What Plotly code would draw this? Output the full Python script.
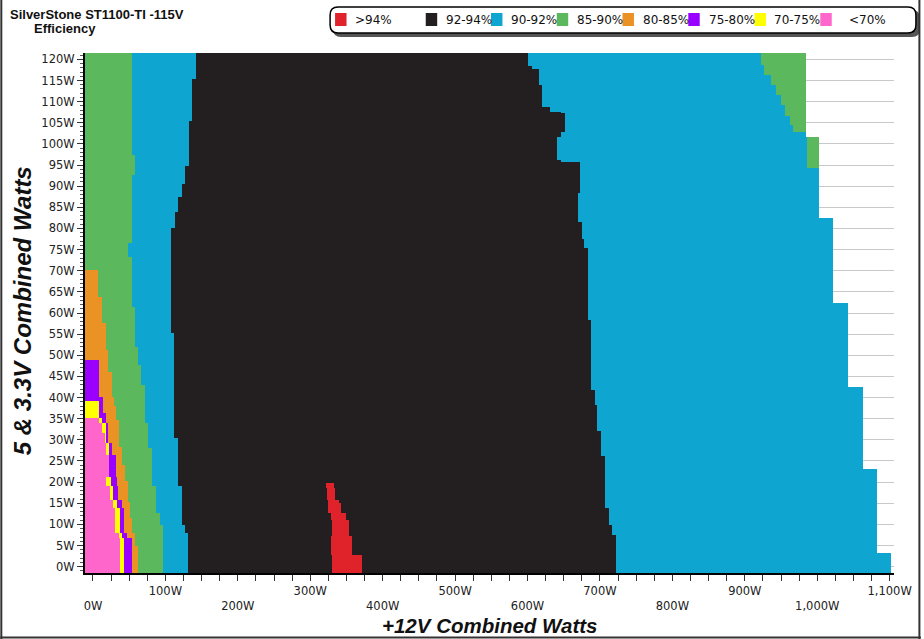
import math
import numpy as np
import plotly.graph_objects as go

# ---------------- data ----------------
categories = [">94%", "92-94%", "90-92%", "85-90%", "80-85%", "75-80%", "70-75%", "<70%"]
cat_colors = ["#e0222a", "#231f20", "#0ea5d1", "#5cb85c", "#ea9223", "#9900ff", "#ffff00", "#ff66cc"]

x_tick_values = [0, 100, 200, 300, 400, 500, 600, 700, 800, 900, 1000, 1100]
x_tick_labels = ["0W", "100W", "200W", "300W", "400W", "500W", "600W", "700W",
                 "800W", "900W", "1,000W", "1,100W"]
y_tick_values = [0, 5, 10, 15, 20, 25, 30, 35, 40, 45, 50, 55, 60, 65, 70, 75, 80, 85,
                 90, 95, 100, 105, 110, 115, 120]
y_tick_labels = ["0W", "5W", "10W", "15W", "20W", "25W", "30W", "35W", "40W", "45W", "50W",
                 "55W", "60W", "65W", "70W", "75W", "80W", "85W", "90W", "95W", "100W",
                 "105W", "110W", "115W", "120W"]

V_MIN, V_MAX = -1.5, 121.5      # 5 & 3.3V load span of the map
W_MIN, W_MAX = -11.0, 1106.0    # +12V load span of the map

# Each zone boundary: (lower 5V/3.3V load of a band, +12V load where the zone ends)
pink_end_v = [-1.5, 6.8, 8.0, 13.9, 15.8, 19.0, 21.3, 26.5, 29.2, 31.6, 33.9, 35.1]
pink_end_w = [37.1, 36.2, 31.0, 28.0, 24.0, 18.3, 22.5, 18.3, 16.0, 11.9, 8.3, -11.0]

yellow_end_v = [-1.5, 6.8, 8.0, 13.9, 15.8, 19.0, 21.3, 29.2, 33.9, 35.1, 39.1]
yellow_end_w = [42.6, 39.5, 36.7, 32.6, 27.9, 24.8, 22.5, 17.9, 11.9, 8.3, -11.0]

purple_end_v = [-1.5, 6.8, 8.0, 13.9, 15.8, 19.0, 21.3, 26.5, 29.2, 33.9, 36.3, 40.2, 48.9]
purple_end_w = [53.2, 46.3, 42.6, 39.5, 34.8, 32.6, 31.6, 25.7, 21.1, 17.9, 14.2, 8.3, -11.0]

orange_end_v = [-1.5, 4.8, 8.0, 11.5, 15.4, 20.2, 24.1, 28.4, 34.7, 37.9, 40.2, 46.1, 51.3,
                57.6, 63.9, 70.2]
orange_end_w = [61.5, 57.8, 54.1, 51.0, 47.7, 44.0, 39.5, 35.5, 32.0, 28.5, 25.7, 21.1, 18.0,
                11.8, 7.0, -11.0]

green_end_v = [-1.5, 9.9, 12.7, 19.0, 28.0, 33.9, 43.0, 47.7, 52.0, 61.5, 73.3, 76.5, 92.6, 97.3]
green_end_w = [96.7, 92.2, 86.7, 81.6, 76.0, 71.5, 67.0, 62.3, 58.0, 54.0, 48.6, 54.0, 58.0, 54.0]

blue_end_v = [-1.5, 8.0, 9.9, 19.0, 30.4, 55.2, 80.0, 83.8, 87.5, 90.5, 94.8, 105.4, 115.3]
blue_end_w = [131.6, 127.0, 122.4, 117.9, 111.8, 107.3, 112.8, 117.9, 122.4, 127.5, 132.5,
              137.1, 142.6]

black_end_v = [-1.5, 7.5, 9.9, 13.9, 26.1, 32.0, 38.3, 41.8, 58.4, 75.3, 77.6, 81.6, 88.3,
               95.8, 96.2, 101.7, 102.8, 107.2, 107.6, 108.7, 113.9, 117.8, 118.4]
black_end_w = [722.6, 717.0, 712.0, 707.5, 702.0, 696.5, 693.0, 687.0, 683.0, 678.0, 675.0,
               670.0, 672.0, 646.0, 641.0, 646.0, 651.5, 646.0, 631.0, 620.0, 616.0, 606.0,
               600.0]

# right-hand 85-90% zone (nan = none in that band)
green2_start_v = [-1.5, 94.3, 101.7, 102.8, 104.4, 106.7, 109.1, 111.5, 113.9, 116.2, 118.6]
green2_start_w = [math.nan, 986.0, math.nan, 966.0, 962.0, 955.0, 950.0, 943.0, 936.0, 927.0,
                  922.0]

data_end_v = [-1.5, 3.2, 23.1, 42.6, 62.4, 82.4, 101.7]
data_end_w = [1102.0, 1083.0, 1063.0, 1043.0, 1022.0, 1003.0, 985.0]

# >94% island
red_v = [-1.5, 2.8, 7.2, 11.1, 12.7, 15.0, 15.8, 18.6, 19.8]
red_start_w = [330.6, 328.3, 330.6, 328.3, 325.1, 325.0, 323.7, 322.3]
red_end_w = [371.8, 358.1, 353.5, 349.0, 342.1, 339.8, 334.3, 332.9]


# ---------------- build heatmap grid from the boundaries ----------------
def step(vs, ws, v):
    i = int(np.searchsorted(vs, v, side="right")) - 1
    return ws[max(i, 0)]


all_v = set([V_MIN, V_MAX])
for vs in (pink_end_v, yellow_end_v, purple_end_v, orange_end_v, green_end_v, blue_end_v,
           black_end_v, green2_start_v, data_end_v, red_v):
    all_v.update(vs)
y_edges = sorted(v for v in all_v if V_MIN <= v <= V_MAX)

row_segments = []
for a, b in zip(y_edges[:-1], y_edges[1:]):
    v = 0.5 * (a + b)
    pe = step(pink_end_v, pink_end_w, v)
    ye = max(step(yellow_end_v, yellow_end_w, v), pe)
    pu = max(step(purple_end_v, purple_end_w, v), ye)
    oe = max(step(orange_end_v, orange_end_w, v), pu)
    ge = max(step(green_end_v, green_end_w, v), oe)
    be = step(blue_end_v, blue_end_w, v)
    ke = step(black_end_v, black_end_w, v)
    de = step(data_end_v, data_end_w, v)
    g2 = step(green2_start_v, green2_start_w, v)
    if math.isnan(g2):
        g2 = de
    segs = [(W_MIN, pe, 7), (pe, ye, 6), (ye, pu, 5), (pu, oe, 4), (oe, ge, 3),
            (ge, be, 2), (be, ke, 1), (ke, g2, 2), (g2, de, 3)]
    if v < red_v[-1]:
        i = int(np.searchsorted(red_v, v, side="right")) - 1
        i = min(max(i, 0), len(red_start_w) - 1)
        segs.append((red_start_w[i], red_end_w[i], 0))
    row_segments.append(segs)

all_w = set([W_MIN, W_MAX])
for segs in row_segments:
    for s, e, _ in segs:
        all_w.add(s)
        all_w.add(e)
x_edges = sorted(w for w in all_w if W_MIN <= w <= W_MAX)

z = []
for segs in row_segments:
    row = []
    for a, b in zip(x_edges[:-1], x_edges[1:]):
        xm = 0.5 * (a + b)
        cat = None
        for s, e, c in segs:
            if s <= xm < e and e > s:
                if c == 0 or cat is None:
                    cat = c
        row.append(cat)
    z.append(row)

n = len(categories)
colorscale = []
for i, c in enumerate(cat_colors):
    colorscale.append([i / n, c])
    colorscale.append([(i + 1) / n, c])

fig = go.Figure()
fig.add_trace(go.Heatmap(
    x=x_edges, y=y_edges, z=z, zmin=-0.5, zmax=n - 0.5,
    colorscale=colorscale, showscale=False, hoverinfo="skip", zsmooth=False,
))

# ---------------- layout ----------------
PL, PR, PT, PB = 85, 897, 53, 573
FW, FH = 924, 639


def px_x(px):
    return (px - PL) / (PR - PL)


def px_y(py):
    return (PB - py) / (PB - PT)


tick_font = dict(family="DejaVu Sans", size=11.5, color="#222222")
x_text = [lab if i % 2 == 1 else "<br>" + lab for i, lab in enumerate(x_tick_labels)]

fig.update_xaxes(
    range=[W_MIN, W_MAX], tickmode="array", tickvals=x_tick_values, ticktext=x_text,
    ticks="outside", ticklen=6, tickcolor="#333333", tickwidth=1,
    minor=dict(dtick=25, tick0=0, ticks="outside", ticklen=6, tickcolor="#333333"),
    showgrid=False, zeroline=False, showline=True, linecolor="#000000", linewidth=2,
    tickfont=tick_font, fixedrange=True,
)
fig.update_yaxes(
    range=[V_MIN, V_MAX], tickmode="array", tickvals=y_tick_values, ticktext=y_tick_labels,
    ticks="outside", ticklen=6, tickcolor="#333333", tickwidth=1,
    minor=dict(dtick=1, tick0=0, ticks="outside", ticklen=3, tickcolor="#555555", showgrid=False),
    showgrid=True, gridcolor="#c8c8c8", gridwidth=1,
    zeroline=False, showline=True, linecolor="#000000", linewidth=2,
    tickfont=tick_font, fixedrange=True,
)

shapes = []
annotations = []

# titles
annotations.append(dict(text="<b>SilverStone ST1100-TI -115V</b>", x=px_x(8), y=px_y(14),
                        xref="paper", yref="paper", xanchor="left", yanchor="middle",
                        showarrow=False, font=dict(family="Liberation Sans", size=13, color="#111111")))
annotations.append(dict(text="<b>Efficiency</b>", x=px_x(32), y=px_y(29),
                        xref="paper", yref="paper", xanchor="left", yanchor="middle",
                        showarrow=False, font=dict(family="Liberation Sans", size=13, color="#111111")))
annotations.append(dict(text="<b><i>+12V Combined Watts</i></b>", x=px_x(491), y=px_y(625),
                        xref="paper", yref="paper", xanchor="center", yanchor="middle",
                        showarrow=False, font=dict(family="Liberation Sans", size=20.5, color="#111111")))
annotations.append(dict(text="<b><i>5 &amp; 3.3V Combined Watts</i></b>", x=px_x(22), y=px_y(311),
                        xref="paper", yref="paper", xanchor="center", yanchor="middle",
                        textangle=-90, showarrow=False,
                        font=dict(family="Liberation Sans", size=24, color="#111111")))


def rounded_path(x0, y0, x1, y1, r):
    X = lambda p: px_x(p)
    Y = lambda p: px_y(p)
    return (f"M {X(x0 + r)},{Y(y0)} L {X(x1 - r)},{Y(y0)} Q {X(x1)},{Y(y0)} {X(x1)},{Y(y0 + r)} "
            f"L {X(x1)},{Y(y1 - r)} Q {X(x1)},{Y(y1)} {X(x1 - r)},{Y(y1)} "
            f"L {X(x0 + r)},{Y(y1)} Q {X(x0)},{Y(y1)} {X(x0)},{Y(y1 - r)} "
            f"L {X(x0)},{Y(y0 + r)} Q {X(x0)},{Y(y0)} {X(x0 + r)},{Y(y0)} Z")


# legend box with shadow
shapes.append(dict(type="path", xref="paper", yref="paper",
                   path=rounded_path(334, 10, 923, 37, 8), fillcolor="#555555",
                   line=dict(width=0), layer="above"))
shapes.append(dict(type="path", xref="paper", yref="paper",
                   path=rounded_path(331, 7, 919, 33, 8), fillcolor="#ffffff",
                   line=dict(color="#000000", width=1.5), layer="above"))

legend_square_x = [336, 427, 492.5, 558.5, 624.5, 690.5, 757, 823]
legend_label_x = [354, 445, 511, 577, 643, 709, 775, 850]
for i, (cat, col) in enumerate(zip(categories, cat_colors)):
    sx = legend_square_x[i]
    shapes.append(dict(type="rect", xref="paper", yref="paper",
                       x0=px_x(sx), x1=px_x(sx + 11.5), y0=px_y(26), y1=px_y(13),
                       fillcolor=col, line=dict(width=0), layer="above"))
    annotations.append(dict(text=cat, x=px_x(legend_label_x[i]), y=px_y(20),
                            xref="paper", yref="paper", xanchor="left", yanchor="middle",
                            showarrow=False,
                            font=dict(family="DejaVu Sans", size=12, color="#111111")))

# outer frame
for (x0, y0, x1, y1) in [(1, 0, 1, FH), (922.5, 0, 922.5, FH), (0, 637.5, FW, 637.5)]:
    shapes.append(dict(type="line", xref="paper", yref="paper",
                       x0=px_x(x0), x1=px_x(x1), y0=px_y(y0), y1=px_y(y1),
                       line=dict(color="#333333", width=2), layer="above"))

fig.update_layout(
    width=FW, height=FH, autosize=False,
    margin=dict(l=PL, r=FW - PR, t=PT, b=FH - PB, pad=0),
    paper_bgcolor="#ffffff", plot_bgcolor="#ffffff",
    showlegend=False, shapes=shapes, annotations=annotations,
)

fig.write_html("out.html", config={"displayModeBar": False},
               post_script="document.body.style.margin='0px';document.body.style.padding='0px';")
